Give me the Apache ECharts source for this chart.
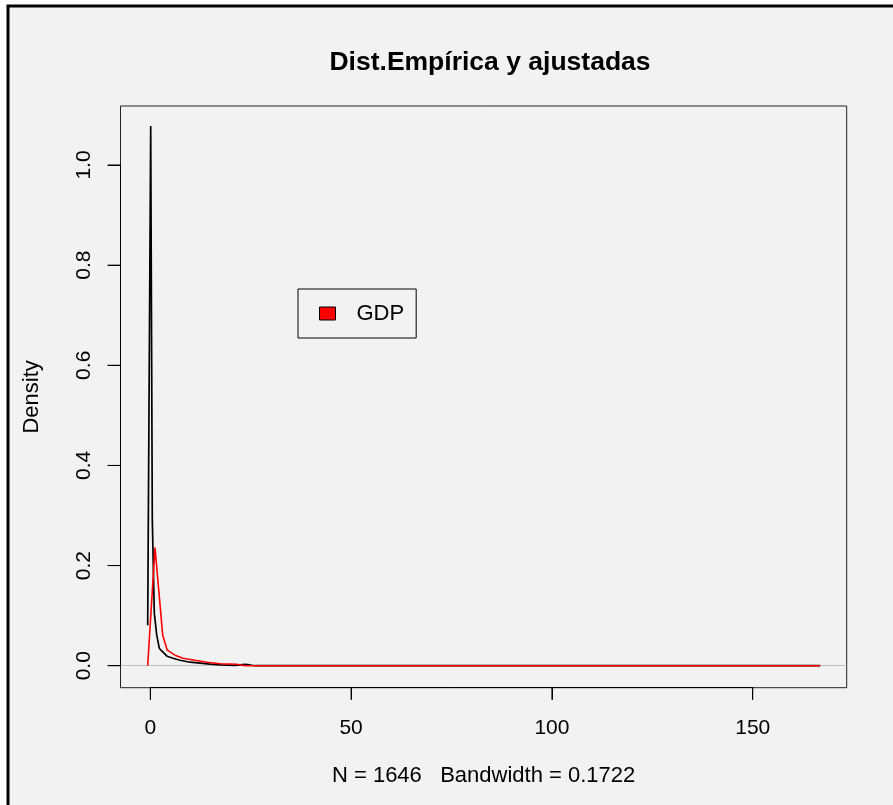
<!DOCTYPE html>
<html>
<head>
<meta charset="utf-8">
<script src="https://cdn.jsdelivr.net/npm/echarts@6/dist/echarts.min.js"></script>
<style>html,body{margin:0;padding:0;background:#fff;}#c{width:893px;height:805px;}</style>
</head>
<body>
<div id="c"></div>
<script>
// Empirical density (black)
const empX = [-0.65, 0.1, 0.5, 1.0, 1.6, 2.24, 2.66, 3.16, 4.16, 5.65, 7.4, 9.9, 12.4, 14.9, 17.4, 21.1, 23.6, 24.8, 26.1, 166.8];
const empY = [0.081, 1.078, 0.291, 0.105, 0.061, 0.035, 0.031, 0.027, 0.019, 0.015, 0.011, 0.007, 0.005, 0.003, 0.0015, 0.0005, 0.0025, 0.0015, 0, 0];
// Fitted density (red, GDP)
const fitX = [-0.65, 1.17, 3.09, 4.23, 6.15, 8.14, 11.1, 14.1, 17.4, 21.5, 23.6, 166.8];
const fitY = [0, 0.236, 0.061, 0.031, 0.021, 0.015, 0.011, 0.007, 0.004, 0.003, 0, 0];
// Axis ranges and ticks
const xRange = [-7.42, 173.4];
const yRange = [-0.0439, 1.1178];
const xTicks = [0, 50, 100, 150];
const yTicks = [0, 0.2, 0.4, 0.6, 0.8, 1.0];
const xTickRange = [0, 150];
const xTickStep = 50;
const yTickRange = [0, 1.0];
const yTickStep = 0.2;
const titleText = 'Dist.Empírica y ajustadas';
const xLabel = 'N = 1646   Bandwidth = 0.1722';
const yLabel = 'Density';
const legendName = 'GDP';

const FONT = "'Liberation Sans', Arial, sans-serif";
const chart = echarts.init(document.getElementById('c'), null, {renderer: 'canvas'});
const zip = (xs, ys) => xs.map((x, i) => [x, ys[i]]);

// plot region in pixels
const PL = 120.5, PR = 846.7, PT = 106, PB = 687.7, W = 893, H = 805;
const sx = (PR - PL) / (xRange[1] - xRange[0]);
const sy = (PB - PT) / (yRange[1] - yRange[0]);
const xPix = v => PL + (v - xRange[0]) * sx;
const yPix = v => PB - (v - yRange[0]) * sy;

chart.setOption({
  backgroundColor: '#f2f2f2',
  animation: false,
  graphic: [
    {type: 'rect', silent: true, shape: {x: 0, y: 0, width: W, height: 5}, style: {fill: '#ffffff'}},
    {type: 'rect', silent: true, shape: {x: 0, y: 0, width: 7, height: H}, style: {fill: '#ffffff'}},
    {type: 'polyline', silent: true, shape: {points: [[8, H + 5], [8, 6], [W + 5, 6]]},
     style: {fill: null, stroke: '#000', lineWidth: 3}}
  ],
  title: {
    text: titleText, left: 485, top: 44, textAlign: 'center',
    textStyle: {fontFamily: FONT, fontWeight: 'bold', fontSize: 26.5, color: '#000'}
  },
  legend: {
    data: [{name: legendName, icon: 'rect', itemStyle: {color: '#ff0000', borderColor: '#000', borderWidth: 1}}],
    left: 298, top: 289,
    padding: [13.5, 12, 13.5, 21],
    itemWidth: 16, itemHeight: 13, itemGap: 0,
    borderColor: '#000', borderWidth: 1, borderRadius: 0,
    backgroundColor: 'transparent',
    textStyle: {fontFamily: FONT, fontSize: 22, lineHeight: 21, color: '#000', padding: [0, 0, 0, 16]}
  },
  grid: [
    {left: PL, top: PT, right: W - PR, bottom: H - PB,
     show: true, borderColor: '#222', borderWidth: 1, backgroundColor: 'transparent'},
    {left: xPix(xTickRange[0]), right: W - xPix(xTickRange[1]), top: PT, bottom: H - PB, show: false},
    {left: PL, right: W - PR, top: yPix(yTickRange[1]), bottom: H - yPix(yTickRange[0]), show: false}
  ],
  xAxis: [{
    gridIndex: 0, type: 'value', min: xRange[0], max: xRange[1],
    name: xLabel, nameLocation: 'middle', nameGap: 77.5,
    nameTextStyle: {fontFamily: FONT, fontSize: 22, color: '#000'},
    axisLine: {show: false}, axisTick: {show: false}, axisLabel: {show: false}, splitLine: {show: false}
  }, {
    gridIndex: 1, type: 'value', min: xTickRange[0], max: xTickRange[1], interval: xTickStep,
    axisLine: {show: true, onZero: false, lineStyle: {color: '#000', width: 1}},
    axisTick: {show: true, inside: false, length: 12, lineStyle: {color: '#000', width: 1}},
    axisLabel: {margin: 30, fontFamily: FONT, fontSize: 21, color: '#000', showMinLabel: true, showMaxLabel: true},
    splitLine: {show: false}
  }, {
    gridIndex: 2, type: 'value', min: 0, max: 1, show: false
  }],
  yAxis: [{
    gridIndex: 0, type: 'value', min: yRange[0], max: yRange[1],
    name: yLabel, nameLocation: 'middle', nameRotate: 90, nameGap: 78,
    nameTextStyle: {fontFamily: FONT, fontSize: 22, color: '#000'},
    axisLine: {show: false}, axisTick: {show: false}, axisLabel: {show: false}, splitLine: {show: false}
  }, {
    gridIndex: 1, type: 'value', min: 0, max: 1, show: false
  }, {
    gridIndex: 2, type: 'value', min: yTickRange[0], max: yTickRange[1], interval: yTickStep,
    axisLine: {show: true, onZero: false, lineStyle: {color: '#000', width: 1}},
    axisTick: {show: true, inside: false, length: 12.8, lineStyle: {color: '#000', width: 1}},
    axisLabel: {rotate: 90, margin: 26, fontFamily: FONT, fontSize: 21, color: '#000',
      showMinLabel: true, showMaxLabel: true, formatter: v => v.toFixed(1)},
    splitLine: {show: false}
  }],
  series: [
    {
      name: 'Empírica', type: 'line', xAxisIndex: 0, yAxisIndex: 0,
      data: zip(empX, empY), showSymbol: false, symbol: 'none',
      lineStyle: {color: '#000', width: 1.7}, z: 3,
      markLine: {silent: true, symbol: ['none', 'none'], label: {show: false},
        lineStyle: {color: '#bebebe', type: 'solid', width: 1}, data: [{yAxis: 0}], z: 1}
    },
    {
      name: legendName, type: 'line', xAxisIndex: 0, yAxisIndex: 0,
      data: zip(fitX, fitY), showSymbol: false, symbol: 'none',
      lineStyle: {color: '#ff0000', width: 1.6}, itemStyle: {color: '#ff0000'}, z: 4
    },
    {
      // tick marks below the x axis, placed through the data axes
      name: 'xticks', type: 'custom', xAxisIndex: 0, yAxisIndex: 0, clip: false, silent: true, z: 6,
      data: xTicks.map(v => [v, yRange[0]]),
      renderItem: (params, api) => {
        const p = api.coord([api.value(0), api.value(1)]);
        return {type: 'line', shape: {x1: p[0], y1: p[1], x2: p[0], y2: p[1] + 12},
                style: {stroke: '#000', lineWidth: 1}};
      }
    },
    {
      // tick marks left of the y axis
      name: 'yticks', type: 'custom', xAxisIndex: 0, yAxisIndex: 0, clip: false, silent: true, z: 6,
      data: yTicks.map(v => [xRange[0], v]),
      renderItem: (params, api) => {
        const p = api.coord([api.value(0), api.value(1)]);
        return {type: 'line', shape: {x1: p[0], y1: p[1], x2: p[0] - 12.8, y2: p[1]},
                style: {stroke: '#000', lineWidth: 1}};
      }
    }
  ]
});
</script>
</body>
</html>
